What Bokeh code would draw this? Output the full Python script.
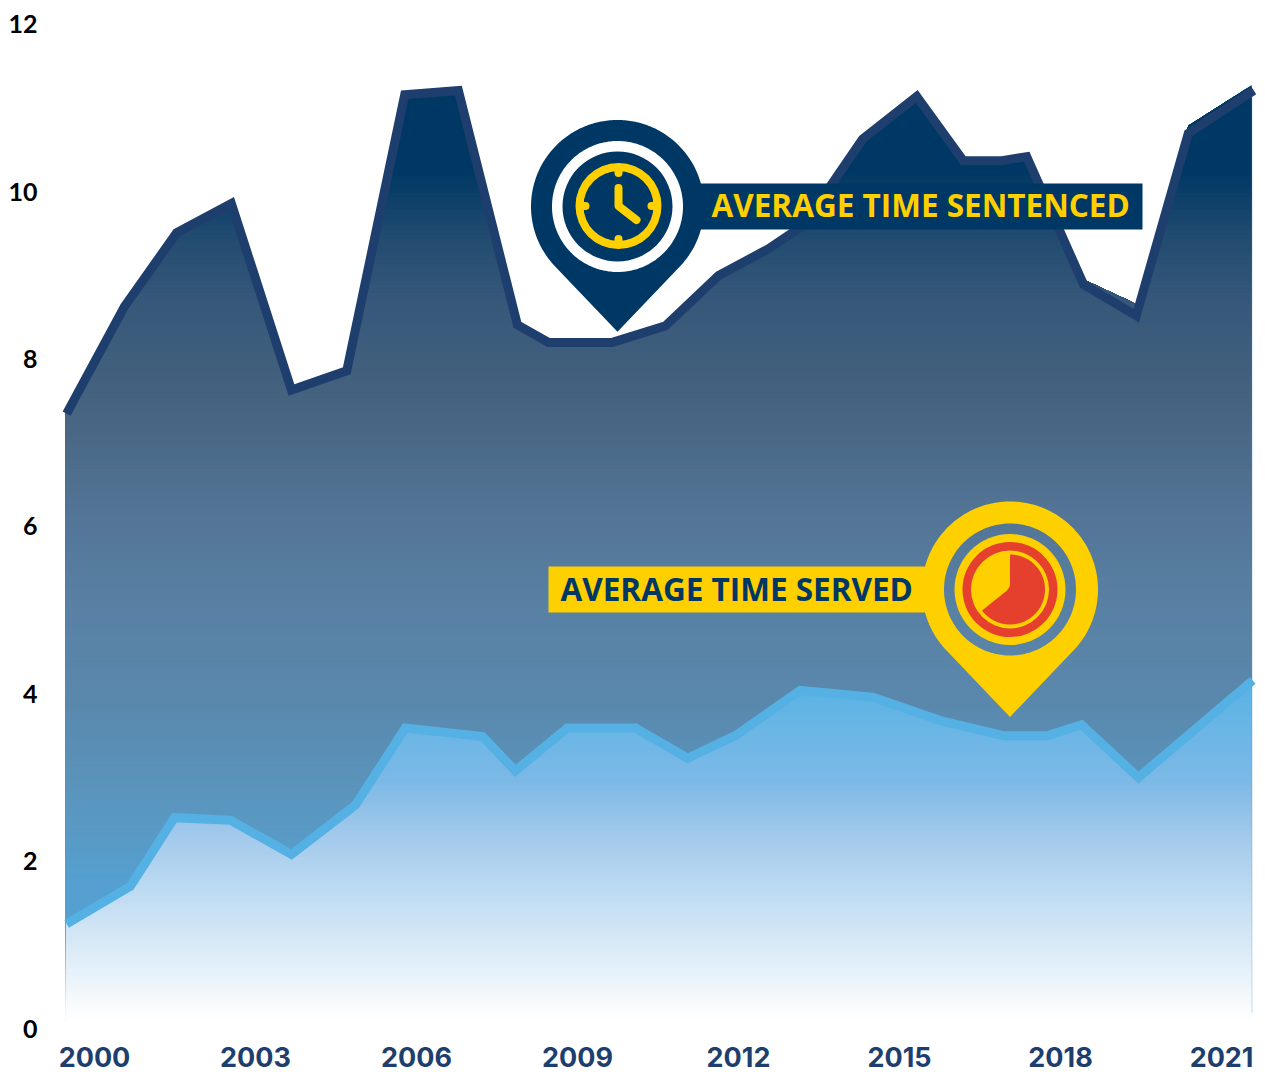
import numpy as np
from bokeh.plotting import figure
from bokeh.models import Range1d, FixedTicker
from bokeh.core.properties import value
from bokeh.embed import file_html
from bokeh.resources import INLINE

# ---- data -----------------------------------------------------------------
sentenced_year = [1999.48, 2000.56, 2001.53, 2002.55, 2003.67, 2004.70, 2005.78, 2006.78, 2007.88,
                  2008.46, 2009.65, 2010.64, 2011.63, 2012.56, 2013.21, 2014.31, 2015.32, 2016.19,
                  2016.88, 2017.37, 2018.43, 2019.41, 2020.38, 2021.60]
sentenced = [7.35, 8.63, 9.51, 9.86, 7.63, 7.86, 11.16, 11.21, 8.41,
             8.20, 8.20, 8.40, 9.00, 9.32, 9.60, 10.63, 11.14, 10.37,
             10.37, 10.42, 8.89, 8.52, 10.70, 11.21]
# the filled area's own outline, which sits a little off the stroke in places
sentenced_area = [7.38, 8.66, 9.54, 9.89, 7.66, 7.89, 11.19, 11.24, 8.44,
                  8.23, 8.23, 8.43, 9.03, 9.35, 9.63, 10.66, 11.17, 10.40,
                  10.40, 10.45, 8.95, 8.66, 10.79, 11.29]
served_year = [1999.48, 2000.67, 2001.49, 2002.53, 2003.67, 2004.86, 2005.79, 2007.23, 2007.84,
               2008.81, 2010.08, 2011.05, 2011.94, 2013.15, 2014.50, 2015.76, 2016.94, 2017.76,
               2018.39, 2019.45, 2021.58]
served = [1.25, 1.70, 2.52, 2.49, 2.08, 2.67, 3.59, 3.49, 3.08,
          3.59, 3.59, 3.23, 3.50, 4.04, 3.96, 3.68, 3.50, 3.50,
          3.63, 3.00, 4.16]
served_area = [1.28, 1.73, 2.55, 2.52, 2.11, 2.70, 3.62, 3.52, 3.11,
               3.62, 3.62, 3.26, 3.53, 4.07, 3.99, 3.71, 3.53, 3.53,
               3.66, 3.03, 4.19]
x_tick_years = [2000, 2003, 2006, 2009, 2012, 2015, 2018, 2021]
y_tick_values = [0, 2, 4, 6, 8, 10, 12]
label_sentenced = "AVERAGE TIME SENTENCED"
label_served = "AVERAGE TIME SERVED"

# ---- colours ---------------------------------------------------------------
NAVY = "#003865"
YELLOW = "#ffd000"
RED = "#e5402d"
LINE_DARK = "#1e3f6e"
LINE_LIGHT = "#55b1e3"
dark_stop_v = [0.19, 1.29, 1.77, 2.72, 3.92, 5.12, 6.31, 7.50, 8.70, 9.54, 10.25, 11.6]
dark_stop_rgb = [(255, 255, 255), (85, 160, 208), (85, 160, 208), (90, 150, 190), (90, 136, 173),
                 (88, 128, 163), (82, 115, 148), (70, 99, 127), (55, 88, 122), (32, 74, 112),
                 (0, 56, 101), (0, 56, 101)]
light_stop_v = [0.10, 0.33, 0.81, 1.53, 2.37, 2.96, 4.04, 4.4]
light_stop_rgb = [(255, 255, 255), (247, 250, 253), (225, 238, 248), (195, 222, 243),
                  (160, 200, 235), (125, 185, 230), (92, 179, 229), (92, 179, 229)]

# ---- layout ----------------------------------------------------------------
PX_LEFT, PX_RIGHT, PX_TOP, PX_BOTTOM = 60, 1265, 0, 1034
X0_PX, X_SCALE = 94.0, 53.67
Y0_PX, Y_SCALE = 1028.0, 83.67

p = figure(width=1265, height=1072, output_backend="svg", toolbar_location=None,
           x_range=Range1d(2000 + (PX_LEFT - X0_PX) / X_SCALE, 2000 + (PX_RIGHT - X0_PX) / X_SCALE),
           y_range=Range1d((Y0_PX - PX_BOTTOM) / Y_SCALE, (Y0_PX - PX_TOP) / Y_SCALE),
           min_border_left=PX_LEFT, min_border_right=0, min_border_top=0,
           min_border_bottom=1072 - PX_BOTTOM, outline_line_color=None,
           background_fill_color="white", border_fill_color="white")
p.extra_x_ranges["px"] = Range1d(PX_LEFT, PX_RIGHT)
p.extra_y_ranges["px"] = Range1d(PX_BOTTOM, PX_TOP)
PX = dict(x_range_name="px", y_range_name="px")
p.grid.visible = False

for ax in (p.xaxis[0], p.yaxis[0]):
    ax.axis_line_color = None
    ax.major_tick_line_color = None
    ax.minor_tick_line_color = None
p.xaxis[0].ticker = FixedTicker(ticks=x_tick_years)
p.xaxis[0].major_label_text_font = "Inter"
p.xaxis[0].major_label_text_font_style = "bold"
p.xaxis[0].major_label_text_font_size = "27px"
p.xaxis[0].major_label_text_color = LINE_DARK
p.xaxis[0].major_label_standoff = 6
p.yaxis[0].ticker = FixedTicker(ticks=y_tick_values)
p.yaxis[0].major_label_text_font = "Lato"
p.yaxis[0].major_label_text_font_style = "bold"
p.yaxis[0].major_label_text_font_size = "25px"
p.yaxis[0].major_label_text_color = "#000000"
p.yaxis[0].major_label_standoff = 17


def gradient_area(xs, ys, base, stop_v, stop_rgb, x_from, x_to, step):
    """Nested areas under the series, each capped at a level, painted top level first."""
    grid = np.unique(np.concatenate([np.arange(x_from, x_to, 0.07), xs, [x_from, x_to]]))
    grid = grid[(grid >= x_from) & (grid <= x_to)]
    f = np.interp(grid, xs, ys)
    sv = np.array(stop_v)
    chan = np.array(stop_rgb, dtype=float)
    xs_out, ys_out, cols = [], [], []
    for lvl in np.arange(max(ys) + step, base, -step):
        col = [int(round(np.interp(lvl, sv, chan[:, i]))) for i in range(3)]
        top = np.minimum(f, lvl)
        xs_out.append(np.concatenate([grid, [x_to, x_from]]))
        ys_out.append(np.concatenate([top, [base, base]]))
        cols.append("#%02x%02x%02x" % tuple(col))
    p.patches(xs_out, ys_out, fill_color=cols, line_color=None)


def px2yr(v):
    return 2000 + (v - X0_PX) / X_SCALE


BASE = (Y0_PX - 1020) / Y_SCALE
gradient_area(np.array(sentenced_year), np.array(sentenced_area), BASE, dark_stop_v, dark_stop_rgb,
              px2yr(65), px2yr(1251), 0.05)
gradient_area(np.array(served_year), np.array(served_area), BASE, light_stop_v, light_stop_rgb,
              px2yr(66), px2yr(1251), 0.03)

# hairline seen along the area's right edge
p.line([1251.5, 1251.5], [92, 1012], line_color="#5a96c8", line_alpha=0.35, line_width=1, **PX)

p.line(sentenced_year, sentenced, line_color=LINE_DARK, line_width=9, line_join="miter", line_cap="butt")
p.line(served_year, served, line_color=LINE_LIGHT, line_width=9, line_join="miter", line_cap="butt")


def pin_outline(cx, cy, r):
    t = np.radians(np.linspace(135, 405, 240))
    ox = cx + r * np.cos(t)
    oy = cy + r * np.sin(t)
    tip_y = cy + r * np.sqrt(2) + 3
    return np.append(ox, cx), np.append(oy, tip_y)


def ring_hole(cx, cy, r):
    t = np.radians(np.linspace(0, 360, 240))
    return cx + r * np.cos(t), cy + r * np.sin(t)


# ---- upper pin --------------------------------------------------------------
cx, cy = 617.0, 206.0
p.quad(left=[695], right=[1142], top=[183], bottom=[229], fill_color=NAVY, line_color=None, **PX)
ox, oy = pin_outline(cx, cy, 86.5)
hx, hy = ring_hole(cx, cy, 65.5)
p.multi_polygons([[[ox, hx]]], [[[oy, hy]]], fill_color=NAVY, line_color=None, **PX)
p.circle([cx], [cy], radius=55, fill_color=NAVY, line_color=None, **PX)
ccx, ccy = cx + 1, cy - 0.5
p.annulus([ccx], [ccy], inner_radius=35, outer_radius=43, fill_color=YELLOW, line_color=None, **PX)
for dx0, dy0, dx1, dy1 in [(0, -38, 0, -33), (0, 38, 0, 33), (-38, 0, -33, 0), (38, 0, 33, 0)]:
    p.line([ccx + dx0, ccx + dx1], [ccy + dy0, ccy + dy1], line_color=YELLOW, line_width=8, line_cap="round", **PX)
p.line([ccx, ccx, ccx + 18], [ccy - 18, ccy, ccy + 14], line_color=YELLOW, line_width=8,
       line_cap="round", line_join="round", **PX)
p.text([711], [204], text=[label_sentenced], text_color=YELLOW, text_font=value("Open Sans"),
       text_font_style="bold", text_font_size="31.5px", text_align="left", text_baseline="middle", **PX)

# ---- lower pin --------------------------------------------------------------
cx, cy = 1009.5, 589.0
p.quad(left=[548], right=[930], top=[566], bottom=[612], fill_color=YELLOW, line_color=None, **PX)
ox, oy = pin_outline(cx, cy, 88)
hx, hy = ring_hole(cx, cy, 66)
p.multi_polygons([[[ox, hx]]], [[[oy, hy]]], fill_color=YELLOW, line_color=None, **PX)
p.circle([cx], [cy], radius=55.5, fill_color=YELLOW, line_color=None, **PX)
p.annulus([cx], [cy], inner_radius=39, outer_radius=47.5, fill_color=RED, line_color=None, **PX)
t = np.radians(np.linspace(-90, 143, 120))
sx = np.concatenate([cx + 35 * np.cos(t), [cx - 3, cx - 0.3, cx]])
sy = np.concatenate([cy + 35 * np.sin(t), [cy + 1, cy - 3, cy - 7]])
p.patch(sx, sy, fill_color=RED, line_color=None, **PX)
p.text([560], [588], text=[label_served], text_color=NAVY, text_font=value("Open Sans"),
       text_font_style="bold", text_font_size="31.5px", text_align="left", text_baseline="middle", **PX)

open("out.html", "w").write(file_html(p, INLINE))
